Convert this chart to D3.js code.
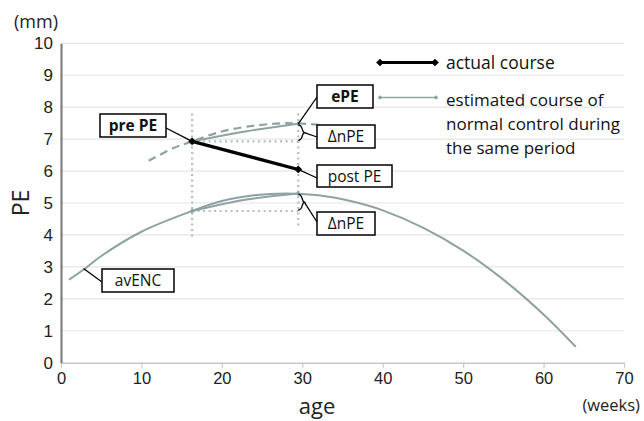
<!DOCTYPE html>
<html>
<head>
<meta charset="utf-8">
<script src="https://cdn.jsdelivr.net/npm/d3@7"></script>
<style>
  body { margin: 0; background: #fff; }
  svg { font-family: "Open Sans", "Noto Sans", sans-serif; }
</style>
</head>
<body>
<div id="chart"></div>
<script>
// axis ticks
var xTicks = [0, 10, 20, 30, 40, 50, 60, 70];
var yTicks = [0, 1, 2, 3, 4, 5, 6, 7, 8, 9, 10];

// avENC curve
var avencAge = [1, 3, 5, 10, 16.3, 20, 24, 28, 32, 36, 40, 45, 50, 55, 60, 64];
var avencPE  = [2.6, 2.95, 3.34, 4.1, 4.75, 5.06, 5.24, 5.3, 5.24, 5.06, 4.77, 4.23, 3.51, 2.6, 1.51, 0.5];

// dashed normal-control curve through pre PE
var normAge = [10.9, 14, 16.3, 20, 24, 28, 32];
var normPE  = [6.32, 6.72, 6.93, 7.24, 7.42, 7.5, 7.45];

// actual course (pre PE -> post PE)
var actualAge = [16.3, 29.5];
var actualPE  = [6.93, 6.05];

// estimated courses (solid gray)
var estUpperAge = [16.3, 22.9, 29.5];
var estUpperPE  = [6.93, 7.24, 7.48];
var estLowerAge = [16.3, 22.9, 29.5];
var estLowerPE  = [4.75, 5.1, 5.3];

var grey = "#8fa2a2";

var svg = d3.select("#chart").append("svg")
    .attr("width", 644)
    .attr("height", 421);

var x = d3.scaleLinear().domain([0, 70]).range([61, 624]);
var y = d3.scaleLinear().domain([0, 10]).range([362.7, 43.3]);

// grid
svg.append("g").selectAll("line")
    .data(yTicks.filter(function(d) { return d > 0; }))
    .enter().append("line")
    .attr("x1", x(0)).attr("x2", x(70))
    .attr("y1", function(d) { return y(d); })
    .attr("y2", function(d) { return y(d); })
    .attr("stroke", "#e6e6e6")
    .attr("stroke-width", 1.2);

// x axis
var gx = svg.append("g")
    .attr("transform", "translate(0," + y(0) + ")")
    .call(d3.axisBottom(x).tickValues(xTicks).tickSize(5).tickSizeOuter(0).tickPadding(5));
gx.select(".domain").attr("stroke", "#c8c8c8").attr("stroke-width", 1.5);
gx.selectAll(".tick line").attr("stroke", "#c8c8c8").attr("stroke-width", 1.2);
gx.selectAll("text").attr("font-size", 16.5).attr("fill", "#222").style("font-family", "inherit");

// y axis
var gy = svg.append("g")
    .attr("transform", "translate(" + x(0) + ",0)")
    .call(d3.axisLeft(y).tickValues(yTicks).tickSize(0).tickPadding(8));
gy.select(".domain").attr("stroke", "#808080").attr("stroke-width", 2.2);
gy.selectAll("text").attr("font-size", 17).attr("fill", "#222").style("font-family", "inherit");

// axis titles
svg.append("text").attr("x", 14).attr("y", 28).attr("font-size", 18).attr("fill", "#222").text("(mm)");
svg.append("text").attr("x", 640).attr("y", 411).attr("text-anchor", "end")
    .attr("font-size", 16.5).attr("fill", "#222").text("(weeks)");
svg.append("text").attr("x", 317).attr("y", 414).attr("text-anchor", "middle")
    .attr("font-size", 22).attr("fill", "#222").text("age");
svg.append("text")
    .attr("transform", "translate(28.5," + y(5) + ") rotate(-90)")
    .attr("text-anchor", "middle")
    .attr("font-size", 23).attr("fill", "#222").text("PE");

// dotted guide lines
var dotted = svg.append("g")
    .attr("stroke", "#b3bebe")
    .attr("stroke-width", 2.2)
    .attr("stroke-dasharray", "2,3.5")
    .attr("fill", "none");
dotted.append("line").attr("x1", x(actualAge[0])).attr("x2", x(actualAge[0])).attr("y1", y(7.8)).attr("y2", y(3.9));
dotted.append("line").attr("x1", x(actualAge[1])).attr("x2", x(actualAge[1])).attr("y1", y(7.8)).attr("y2", y(4.28));
dotted.append("line").attr("x1", x(actualAge[0])).attr("x2", x(actualAge[1])).attr("y1", y(actualPE[0])).attr("y2", y(actualPE[0]));
dotted.append("line").attr("x1", x(estLowerAge[0])).attr("x2", x(estLowerAge[2])).attr("y1", y(estLowerPE[0])).attr("y2", y(estLowerPE[0]));

var line = d3.line()
    .x(function(d) { return x(d[0]); })
    .y(function(d) { return y(d[1]); })
    .curve(d3.curveCatmullRom);

function pairs(a, b) { return a.map(function(v, i) { return [v, b[i]]; }); }

// avENC
svg.append("path")
    .attr("d", line(pairs(avencAge, avencPE)))
    .attr("fill", "none").attr("stroke", grey).attr("stroke-width", 2);

// dashed normal curve
svg.append("path")
    .attr("d", line(pairs(normAge, normPE)))
    .attr("fill", "none").attr("stroke", grey).attr("stroke-width", 2.2)
    .attr("stroke-dasharray", "8,5");

// estimated courses
[pairs(estUpperAge, estUpperPE), pairs(estLowerAge, estLowerPE)].forEach(function(p) {
  svg.append("path")
      .attr("d", line(p))
      .attr("fill", "none").attr("stroke", grey).attr("stroke-width", 2);
  svg.append("path")
      .attr("d", d3.symbol(d3.symbolSquare, 12)())
      .attr("transform", "translate(" + x(p[2][0]) + "," + y(p[2][1]) + ") rotate(45)")
      .attr("fill", grey);
  svg.append("path")
      .attr("d", d3.symbol(d3.symbolSquare, 12)())
      .attr("transform", "translate(" + x(p[0][0]) + "," + y(p[0][1]) + ") rotate(45)")
      .attr("fill", grey);
});

// actual course
svg.append("path")
    .attr("d", d3.line().x(function(d) { return x(d[0]); }).y(function(d) { return y(d[1]); })(pairs(actualAge, actualPE)))
    .attr("stroke", "#000").attr("stroke-width", 3.2).attr("fill", "none");
svg.selectAll(".dia")
    .data(pairs(actualAge, actualPE))
    .enter().append("path")
    .attr("d", d3.symbol(d3.symbolSquare, 30)())
    .attr("transform", function(d) { return "translate(" + x(d[0]) + "," + y(d[1]) + ") rotate(45)"; })
    .attr("fill", "#000");

// braces for ΔnPE
function brace(xx, y1, y2) {
  var m = (y1 + y2) / 2;
  return "M" + xx + "," + y1 +
    " C" + (xx + 5) + "," + y1 + " " + (xx + 3) + "," + (m - 1) + " " + (xx + 6) + "," + m +
    " C" + (xx + 3) + "," + (m + 1) + " " + (xx + 5) + "," + y2 + " " + xx + "," + y2;
}
var xb = x(actualAge[1]);
svg.append("path").attr("d", brace(xb, y(estUpperPE[2]) + 1, y(actualPE[0]) - 1))
    .attr("fill", "none").attr("stroke", "#000").attr("stroke-width", 1.3);
svg.append("path").attr("d", brace(xb, y(estLowerPE[2]) + 1, y(estLowerPE[0]) - 1))
    .attr("fill", "none").attr("stroke", "#000").attr("stroke-width", 1.3);

// label boxes with leader lines
function box(left, top, w, h, label, bold, from, to) {
  svg.append("line")
      .attr("x1", from[0]).attr("y1", from[1]).attr("x2", to[0]).attr("y2", to[1])
      .attr("stroke", "#000").attr("stroke-width", 1.3);
  svg.append("rect")
      .attr("x", left).attr("y", top).attr("width", w).attr("height", h)
      .attr("fill", "#fff").attr("stroke", "#000").attr("stroke-width", 1.5);
  svg.append("text")
      .attr("x", left + w / 2).attr("y", top + h / 2 + 5.5)
      .attr("text-anchor", "middle")
      .attr("font-size", 15.5)
      .attr("font-weight", bold ? "bold" : "normal")
      .attr("fill", "#111")
      .text(label);
}
var xPost = x(actualAge[1]);
box(100, 114, 66, 23, "pre PE", true, [166, 128], [x(actualAge[0]), y(actualPE[0])]);
box(317, 85, 56, 23, "ePE", true, [xPost, y(estUpperPE[2])], [317, 97]);
box(317, 125, 58, 23, "\u0394nPE", false, [xPost + 6, y((estUpperPE[2] + actualPE[0]) / 2)], [317, 137]);
box(317, 165, 75, 22, "post PE", false, [xPost, y(actualPE[1])], [317, 178]);
box(317, 212, 58, 23, "\u0394nPE", false, [xPost + 6, y((estLowerPE[2] + estLowerPE[0]) / 2)], [317, 222]);
box(102, 269, 72, 23, "avENC", false, [x(2.8), y(2.95)], [102, 282]);

// legend
var lg = svg.append("g");
lg.append("line").attr("x1", 380).attr("x2", 435).attr("y1", 62.5).attr("y2", 62.5)
    .attr("stroke", "#000").attr("stroke-width", 3);
[380, 435].forEach(function(px) {
  lg.append("path").attr("d", d3.symbol(d3.symbolSquare, 30)())
    .attr("transform", "translate(" + px + ",62.5) rotate(45)").attr("fill", "#000");
});
lg.append("line").attr("x1", 380).attr("x2", 436).attr("y1", 97.5).attr("y2", 97.5)
    .attr("stroke", grey).attr("stroke-width", 1.6);
[380, 436].forEach(function(px) {
  lg.append("path").attr("d", d3.symbol(d3.symbolSquare, 10)())
    .attr("transform", "translate(" + px + ",97.5) rotate(45)").attr("fill", grey);
});
lg.append("text").attr("x", 446).attr("y", 69).attr("font-size", 17.5).attr("fill", "#111").text("actual course");
["estimated course of", "normal control during", "the same period"].forEach(function(t, i) {
  lg.append("text").attr("x", 446).attr("y", 106 + i * 24).attr("font-size", 17).attr("fill", "#111").text(t);
});
</script>
</body>
</html>
